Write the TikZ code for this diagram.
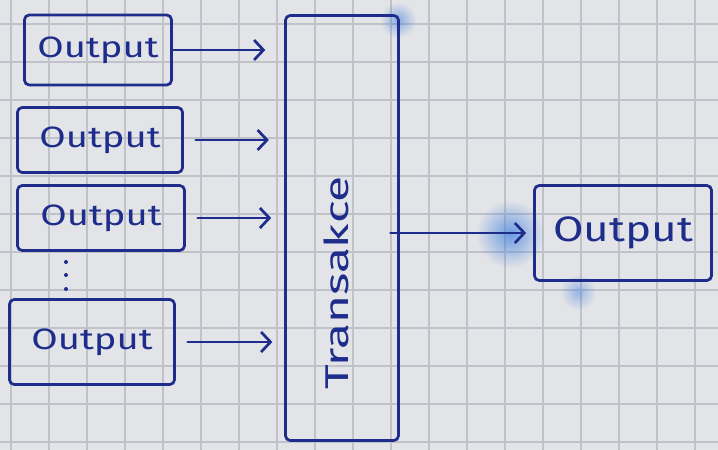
\documentclass[tikz,border=0pt]{standalone}
\usepackage{fontspec}
\setmainfont{Fira Sans}
\usetikzlibrary{arrows.meta,fadings}
\definecolor{paper}{HTML}{E3E4E7}
\definecolor{gridline}{HTML}{BFC2C9}
\definecolor{ink}{HTML}{1E2C8C}
\definecolor{blot}{HTML}{3F7FE0}
\tikzfading[name=softspot, inner color=transparent!10, outer color=transparent!100]
\tikzset{
  box/.style={draw=ink, line width=2.3pt, rounded corners=4pt, inner sep=0pt,
    text=ink, font=\fontsize{25}{29}\selectfont},
  flow/.style={draw=ink, line width=2.3pt, line cap=round,
    -{Straight Barb[length=8pt,width=17pt,line width=2.3pt]}},
  smudge/.style={fill=blot, path fading=softspot}
}
\begin{document}
\begin{tikzpicture}[x=0.85pt,y=-0.85pt]
  % squared paper
  \fill[paper] (0,0) rectangle (718,450);
  \useasboundingbox (0,0) rectangle (718,450);
  \foreach \gx in {11,49,...,711} \draw[gridline, line width=0.9pt] (\gx,0) -- (\gx,450);
  \foreach \gy in {24,62,...,450} \draw[gridline, line width=0.9pt] (0,\gy) -- (718,\gy);

  % ink blots
  \fill[smudge, opacity=0.8] (510,234) circle (34);
  \fill[smudge, opacity=0.6] (398,20) circle (18);
  \fill[smudge, opacity=0.5] (578,292) circle (18);

  % input boxes
  \node[box, minimum width=147*0.85pt, minimum height=70*0.85pt] (b1) at (98,50)  {\scalebox{1.3}[1]{Output}};
  \node[box, minimum width=165*0.85pt, minimum height=65*0.85pt] (b2) at (100,140) {\scalebox{1.3}[1]{Output}};
  \node[box, minimum width=167*0.85pt, minimum height=65*0.85pt] (b3) at (101,218) {\scalebox{1.3}[1]{Output}};
  \node[box, minimum width=165*0.85pt, minimum height=85*0.85pt] (b4) at (92,342)  {\scalebox{1.3}[1]{Output}};

  % continuation dots
  \foreach \dy in {262,275,289} \fill[ink] (66,\dy) circle (2);

  % transaction block
  \node[box, minimum width=113*0.85pt, minimum height=425*0.85pt] (t) at (342,228) {};
  \node[text=ink, font=\fontsize{28}{32}\selectfont, rotate=90] (tl) at (336,283)
    {\scalebox{1.45}[1]{Transakce}};

  % result box
  \node[box, minimum width=177*0.85pt, minimum height=95*0.85pt, font=\fontsize{30}{34}\selectfont] (r) at (623,233)
    {\scalebox{1.25}[1]{Output}};

  % connectors
  \draw[flow, shorten >=16pt] (b1.east) -- (b1.east -| t.west);
  \draw[flow, shorten <=10pt, shorten >=13pt] (b2.east) -- (b2.east -| t.west);
  \draw[flow, shorten <=10pt, shorten >=11pt] (b3.east) -- (b3.east -| t.west);
  \draw[flow, shorten <=10pt, shorten >=10pt] (b4.east) -- (b4.east -| t.west);
  \draw[flow, shorten <=-8pt, shorten >=6pt] (t.east |- r.west) -- (r.west);
\end{tikzpicture}
\end{document}
